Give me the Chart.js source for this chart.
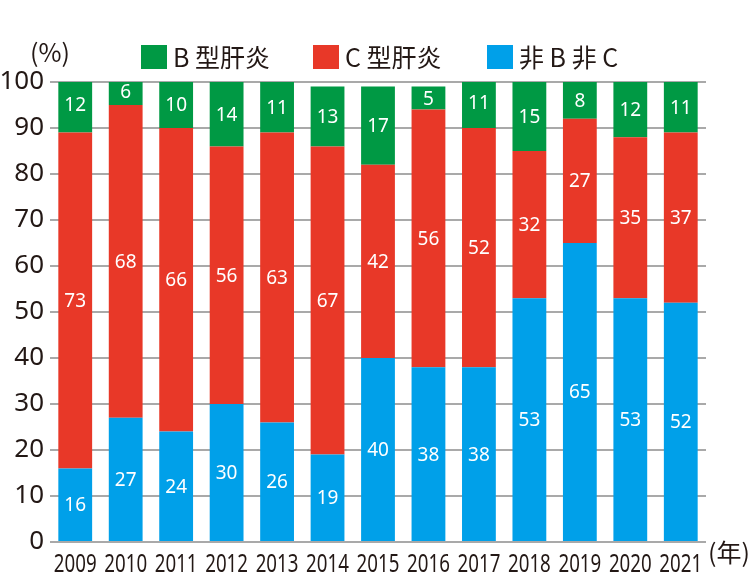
<!DOCTYPE html>
<html><head><meta charset="utf-8">
<script src="https://cdn.jsdelivr.net/npm/chart.js@4/dist/chart.umd.min.js"></script>
<style>html,body{margin:0;padding:0;background:#fff}canvas{display:block}</style>
</head><body>
<canvas id="c" width="750" height="573"></canvas>
<script>
const years = ["2009","2010","2011","2012","2013","2014","2015","2016","2017","2018","2019","2020","2021"];
const nonBnonC = [16,27,24,30,26,19,40,38,38,53,65,53,52];
const hepC = [73,68,66,56,63,67,42,56,52,32,27,35,37];
const hepB = [12,6,10,14,11,13,17,5,11,15,8,12,11];
const seriesNames = ["非 B 非 C","C 型肝炎","B 型肝炎"];
const yTicks = [0,10,20,30,40,50,60,70,80,90,100];

const GREEN = "#009944", RED = "#e83828", BLUE = "#00a0e9", TXT = "#231815";
const CJK = '"Noto Sans CJK JP", "Noto Sans", sans-serif';

const labelPlugin = {
  id: "segLabels",
  afterDatasetsDraw(chart) {
    const ctx = chart.ctx;
    ctx.save();
    ctx.fillStyle = "#fff";
    ctx.font = '19px "Noto Sans", sans-serif';
    ctx.textAlign = "center";
    ctx.textBaseline = "middle";
    chart.data.datasets.forEach((ds, di) => {
      const meta = chart.getDatasetMeta(di);
      meta.data.forEach((el, i) => {
        const p = el.getProps(["x","y","base"], true);
        ctx.fillText(String(ds.data[i]), p.x, (p.y + p.base) / 2 + 1);
      });
    });
    ctx.restore();
  },
  afterDraw(chart) {
    const ctx = chart.ctx;
    ctx.save();
    ctx.fillStyle = TXT;
    ctx.textBaseline = "middle";
    ctx.textAlign = "left";
    ctx.font = '25px ' + CJK;
    ctx.fillText("(%)", 30, 52);
    ctx.fillText("(年)", 708, 552);
    // legend
    const items = [
      {c: GREEN, t: seriesNames[2], x: 141},
      {c: RED, t: seriesNames[1], x: 313},
      {c: BLUE, t: seriesNames[0], x: 487}
    ];
    items.forEach(it => {
      ctx.fillStyle = it.c;
      ctx.fillRect(it.x, 45, 26, 24);
      ctx.fillStyle = TXT;
      ctx.fillText(it.t, it.x + 32, 57);
    });
    // condensed x-axis labels
    const xs = chart.scales.x;
    ctx.font = '26px "Noto Sans", sans-serif';
    ctx.textAlign = "center";
    ctx.textBaseline = "alphabetic";
    years.forEach((y, i) => {
      const px = xs.getPixelForTick(i);
      ctx.save();
      ctx.translate(px, 572);
      ctx.scale(0.72, 1);
      ctx.fillText(y, 0, 0);
      ctx.restore();
    });
    ctx.restore();
  }
};

new Chart(document.getElementById("c"), {
  type: "bar",
  data: {
    labels: years,
    datasets: [
      {label: seriesNames[0], data: nonBnonC, backgroundColor: BLUE},
      {label: seriesNames[1], data: hepC, backgroundColor: RED},
      {label: seriesNames[2], data: hepB, backgroundColor: GREEN}
    ]
  },
  options: {
    responsive: false,
    animation: false,
    devicePixelRatio: 1,
    layout: {padding: {top: 82, right: 44, left: 0, bottom: 0}},
    datasets: {bar: {barPercentage: 0.67, categoryPercentage: 1}},
    plugins: {legend: {display: false}, tooltip: {enabled: false}, title: {display: false}},
    scales: {
      x: {
        stacked: true,
        grid: {display: false},
        border: {display: false},
        ticks: {color: "rgba(0,0,0,0)", autoSkip: false, font: {size: 12}, padding: 2, maxRotation: 0},
        afterFit(s) { s.height = 31; }
      },
      y: {
        stacked: true,
        min: 0, max: 100,
        afterBuildTicks(s) { s.ticks = yTicks.map(v => ({value: v})); },
        grid: {color: "#a9a9a9", lineWidth: 2, drawTicks: false},
        border: {display: false},
        ticks: {color: TXT, font: {family: '"Noto Sans", sans-serif', size: 26}, padding: 6},
        afterFit(s) { s.width = 50; }
      }
    }
  },
  plugins: [labelPlugin]
});
</script>
</body></html>
